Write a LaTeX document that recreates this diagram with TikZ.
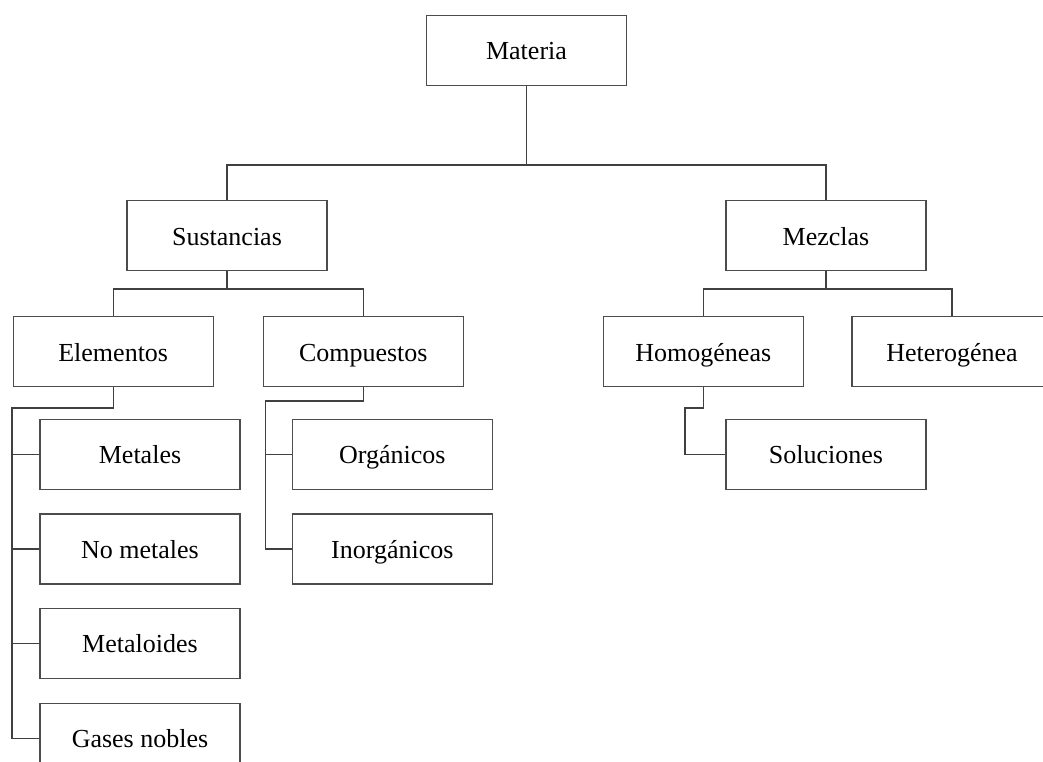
\documentclass[tikz,border=0pt]{standalone}
\usepackage{fontspec}
\setmainfont{Liberation Serif}
\usepackage{tikz}
\usetikzlibrary{positioning}
\tikzset{
  tbox/.style={draw=black!70, line width=0.9pt, minimum width=150pt,
               minimum height=52.5pt, inner sep=2pt, align=center,
               text height=17pt, text depth=3pt,
               font=\fontsize{19.5}{23}\selectfont},
  tlink/.style={draw=black!75, line width=0.9pt},
}

\begin{document}
\begin{tikzpicture}[x=0.75pt, y=-0.75pt]
\clip (0,0) rectangle (1043,762);
% ---- top levels ----
\node[tbox] (materia) at (526.5,50.5) {Materia};
\node[tbox] (sust) at (227,235.7) {Sustancias};
\node[tbox] (mezc) at (826,235.7) {Mezclas};
\node[tbox] (elem) at (113.2,351.7) {Elementos};
\node[tbox] (comp) at (363.3,351.7) {Compuestos};
\node[tbox] (homo) at (703.3,351.7) {Homogéneas};
\node[tbox] (hete) at (952,351.7) {Heterogénea};
% ---- element list ----
\node[tbox] (metal) at (140,454.3) {Metales};
\node[tbox, below=17.6pt of metal] (nometal) {No metales};
\node[tbox, below=17.6pt of nometal] (metaloid) {Metaloides};
\node[tbox, below=17.6pt of metaloid] (gases) {Gases nobles};
% ---- compound list and solutions ----
\node[tbox] (organ) at (392.3,454.3) {Orgánicos};
\node[tbox, below=17.6pt of organ] (inorgan) {Inorgánicos};
\node[tbox] (soluc) at (826,454.3) {Soluciones};
% ---- junctions ----
\coordinate (m0) at (526.5,165);
\coordinate (s0) at (227,289);
\coordinate (z0) at (826,289);
\coordinate (e0) at (12,408);
\coordinate (c0) at (265.5,401);
\coordinate (h0) at (685,408);
% ---- connectors ----
\draw[tlink] (materia) -- (m0);
\draw[tlink] (sust.north) |- (m0) -| (mezc.north);
\draw[tlink] (sust) -- (s0);
\draw[tlink] (elem.north) |- (s0) -| (comp.north);
\draw[tlink] (mezc) -- (z0);
\draw[tlink] (homo.north) |- (z0) -| (hete.north);
\draw[tlink] (elem.south) |- (e0) |- (gases.west);
\foreach \n in {metal, nometal, metaloid}
  \draw[tlink] (e0 |- \n.west) -- (\n.west);
\draw[tlink] (comp.south) |- (c0) |- (inorgan.west);
\draw[tlink] (c0 |- organ.west) -- (organ.west);
\draw[tlink] (homo.south) |- (h0) |- (soluc.west);
\end{tikzpicture}
\end{document}
